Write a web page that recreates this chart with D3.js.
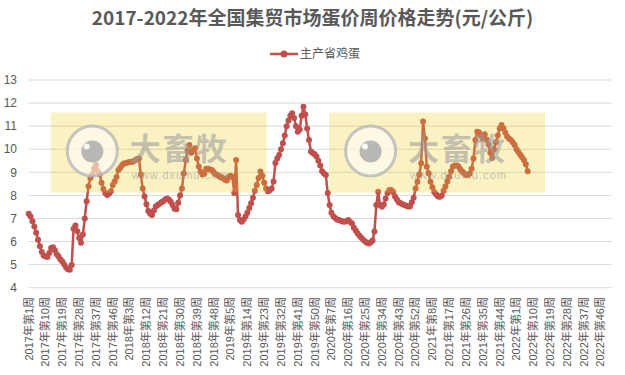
<!DOCTYPE html>
<meta charset="utf-8">
<style>
body { margin: 0; background: #fff; }
text { font-family: "Liberation Sans", "Noto Sans CJK SC", sans-serif; fill: #595959; }
</style>
<svg width="625" height="375"></svg>
<script src="https://d3js.org/d3.v7.min.js"></script>
<script>

var title = "2017-2022年全国集贸市场蛋价周价格走势(元/公斤)",
    seriesName = "主产省鸡蛋";

var years = [2017, 2018, 2019, 2020, 2021, 2022],
    weeksPerYear = [52, 52, 52, 53, 52, 52];

var yTicks = [4, 5, 6, 7, 8, 9, 10, 11, 12, 13];
var labelEvery = 9;

// weekly egg price, yuan/kg
var eggs2017 = [7.20, 7.08, 6.88, 6.65, 6.38, 6.08, 5.80, 5.55, 5.40, 5.35,
                5.33, 5.50, 5.72, 5.75, 5.62, 5.45, 5.35, 5.22, 5.13, 5.00,
                4.88, 4.80, 4.78, 4.98, 6.55, 6.70, 6.45, 6.15, 5.95, 6.30,
                7.00, 7.75, 8.40, 8.75, 8.90, 9.15, 9.32, 9.05, 8.90, 8.55,
                8.28, 8.10, 8.02, 8.08, 8.18, 8.45, 8.60, 8.80, 9.10, 9.20,
                9.32, 9.38];
var eggs2018 = [9.40, 9.42, 9.45, 9.45, 9.48, 9.52, 9.58, 9.60, 8.90, 8.30,
                7.95, 7.62, 7.32, 7.20, 7.15, 7.35, 7.52, 7.58, 7.64, 7.70,
                7.75, 7.82, 7.87, 7.82, 7.72, 7.58, 7.42, 7.40, 7.68, 8.00,
                8.30, 8.95, 9.53, 9.95, 10.18, 9.85, 9.95, 10.04, 9.60, 9.25,
                9.03, 8.90, 8.95, 9.15, 9.15, 9.12, 9.10, 9.00, 8.92, 8.88,
                8.82, 8.78];
var eggs2019 = [8.75, 8.68, 8.65, 8.80, 8.85, 8.80, 8.10, 9.53, 7.15, 6.93,
                6.86, 6.95, 7.08, 7.25, 7.45, 7.66, 7.90, 8.20, 8.45, 8.75,
                9.03, 8.85, 8.55, 8.30, 8.18, 8.22, 8.30, 8.60, 9.40, 9.60,
                9.75, 10.00, 10.26, 10.60, 11.00, 11.25, 11.45, 11.56, 11.35, 11.00,
                10.76, 10.85, 11.45, 11.84, 11.50, 10.90, 10.40, 9.90, 9.84, 9.78,
                9.68, 9.50];
var eggs2020 = [9.30, 9.05, 8.95, 8.88, 8.10, 7.58, 7.25, 7.10, 7.02, 6.96,
                6.93, 6.90, 6.87, 6.86, 6.88, 6.93, 6.85, 6.78, 6.60, 6.48,
                6.35, 6.25, 6.16, 6.08, 6.00, 5.95, 5.92, 5.97, 6.05, 6.43,
                7.58, 8.16, 7.58, 7.51, 7.60, 7.87, 8.10, 8.23, 8.23, 8.15,
                7.95, 7.82, 7.70, 7.66, 7.62, 7.58, 7.55, 7.52, 7.52, 7.70,
                7.90, 8.30, 8.59];
var eggs2021 = [8.90, 9.39, 11.20, 10.47, 9.24, 8.96, 8.59, 8.35, 8.15, 8.05,
                7.95, 7.94, 8.00, 8.20, 8.38, 8.60, 8.81, 9.05, 9.25, 9.30,
                9.30, 9.25, 9.12, 9.03, 8.95, 8.88, 8.88, 8.95, 9.15, 9.60,
                10.40, 10.76, 10.72, 10.60, 10.45, 10.65, 10.42, 10.20, 9.85, 9.62,
                10.00, 10.30, 10.60, 10.90, 11.05, 10.91, 10.72, 10.55, 10.47, 10.40,
                10.30, 10.18];
var eggs2022 = [10.00, 9.88, 9.76, 9.65, 9.53, 9.35, 9.05];

var categories = [];
years.forEach(function(yr, k) {
  for (var w = 1; w <= weeksPerYear[k]; w++) categories.push(yr + "年第" + w + "周");
});

var values = [].concat(eggs2017, eggs2018, eggs2019, eggs2020, eggs2021, eggs2022);
var data = values.map(function(v, i) { return {cat: categories[i], value: v}; });

var svg = d3.select("svg");

var x = d3.scalePoint().domain(categories).range([28.7, 611.8]),
    y = d3.scaleLinear().domain([4, 13]).range([287.7, 80]);

// title
svg.append("text")
    .attr("x", 312.5).attr("y", 25)
    .attr("text-anchor", "middle")
    .style("font-family", "'Noto Sans CJK SC', sans-serif")
    .style("font-weight", "bold")
    .style("font-size", "19px")
    .text(title);

// legend
var legend = svg.append("g").attr("transform", "translate(270,54)");
legend.append("line").attr("x1", 0).attr("x2", 28)
    .attr("stroke", "#c0504d").attr("stroke-width", 2.5);
legend.append("circle").attr("cx", 14).attr("r", 3.5).attr("fill", "#c0504d");
legend.append("text").attr("x", 30).attr("dy", "0.35em")
    .style("font-size", "12px").text(seriesName);

// gridlines + y labels
svg.append("g").selectAll("line").data(yTicks).join("line")
    .attr("x1", 28.7).attr("x2", 611.8)
    .attr("y1", d => y(d)).attr("y2", d => y(d))
    .attr("stroke", "#d9d9d9").attr("stroke-width", 1);

svg.append("g").selectAll("text").data(yTicks).join("text")
    .attr("x", 17).attr("y", d => y(d)).attr("dy", "0.35em")
    .attr("text-anchor", "end")
    .style("font-size", "12px")
    .text(d => d);

// x labels
var shown = categories.filter(function(c, i) { return i % labelEvery === 0; });
svg.append("g").selectAll("text").data(shown).join("text")
    .attr("transform", d => "translate(" + x(d) + ",297) rotate(-90)")
    .attr("dy", "0.35em")
    .attr("text-anchor", "end")
    .style("font-size", "11px")
    .text(d => d);

// series
var line = d3.line().x(d => x(d.cat)).y(d => y(d.value));
svg.append("path").datum(data)
    .attr("d", line)
    .attr("fill", "none")
    .attr("stroke", "#c0504d")
    .attr("stroke-width", 2.5)
    .attr("stroke-linejoin", "round");

svg.append("g").selectAll("circle").data(data).join("circle")
    .attr("cx", d => x(d.cat)).attr("cy", d => y(d.value))
    .attr("r", 3)
    .attr("fill", "#c0504d");

// watermarks on top
function watermark(x0) {
  var g = svg.append("g").attr("transform", "translate(" + x0 + ",112.5)");
  g.append("rect").attr("width", 216).attr("height", 80)
      .attr("fill", "rgb(240,205,20)").attr("opacity", 0.25);
  g.append("circle").attr("cx", 41.6).attr("cy", 38.5).attr("r", 25)
      .attr("fill", "#fff").attr("fill-opacity", 0.55)
      .attr("stroke", "#b8b8b8").attr("stroke-width", 3).attr("stroke-opacity", 0.8);
  g.append("circle").attr("cx", 41.6).attr("cy", 39).attr("r", 11)
      .attr("fill", "#a8a8a8").attr("opacity", 0.8);
  g.append("circle").attr("cx", 36).attr("cy", 34).attr("r", 3)
      .attr("fill", "#fff").attr("opacity", 0.9);
  g.append("text").attr("x", 79).attr("y", 47)
      .style("font-family", "'Noto Sans CJK SC', sans-serif")
      .style("font-weight", "bold").style("font-size", "31px")
      .style("letter-spacing", "2px")
      .style("fill", "#999").attr("opacity", 0.55)
      .text("大畜牧");
  g.append("text").attr("x", 81).attr("y", 66)
      .style("font-size", "11px")
      .attr("textLength", 96)
      .style("fill", "#999").attr("opacity", 0.55)
      .text("www.dxumu.com");
}
watermark(50.7);
watermark(329);

</script>
